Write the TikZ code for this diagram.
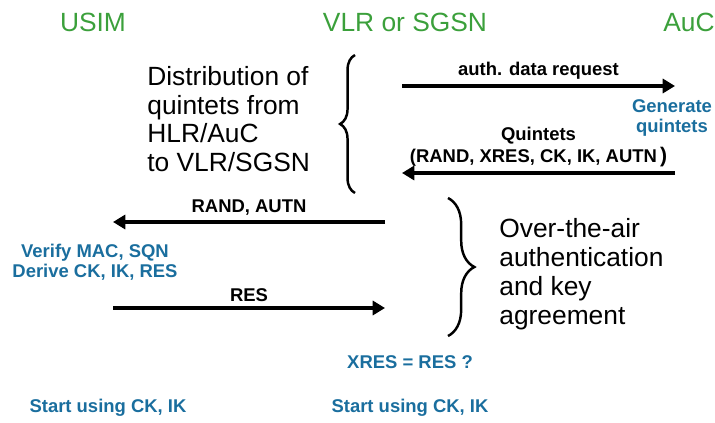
\documentclass[tikz,border=0pt]{standalone}
\usepackage{fontspec}
\setmainfont{Liberation Sans}
\usetikzlibrary{arrows.meta,decorations.pathreplacing}
\definecolor{partygreen}{RGB}{59,160,59}
\definecolor{actblue}{RGB}{26,110,158}

\begin{document}
\begin{tikzpicture}[x=0.02cm, y=-0.02cm,
  party/.style={text=partygreen, font=\fontsize{15}{18}\selectfont},
  msg/.style={line width=2.5pt, -{Triangle[length=7pt,width=8pt]}},
  lbl/.style={font=\fontsize{10.5}{12.5}\selectfont\bfseries, align=center, inner sep=2.5pt},
  act/.style={text=actblue, font=\fontsize{10.5}{11.3}\selectfont\bfseries, align=center},
  note/.style={font=\fontsize{15}{16.4}\selectfont, align=left, anchor=west, inner sep=0pt},
  curly/.style={decorate, line width=1.4pt}]
  \useasboundingbox (0,0) rectangle (715,422);

  % the three parties
  \node [party] (usim) at (93,22) {USIM};
  \node [party] (vlr) at (405,22) {VLR or SGSN};
  \node [party] (auc) at (689,22) {AuC};

  % message end points
  \coordinate (vlrA) at (402,86);
  \coordinate (aucA) at (675,86);
  \coordinate (vlrB) at (402,173);
  \coordinate (aucB) at (675,173);
  \coordinate (usimC) at (113,222);
  \coordinate (vlrC) at (385,222);
  \coordinate (usimD) at (113,308);
  \coordinate (vlrD) at (385,308);

  % messages
  \draw [msg] (vlrA) -- (aucA) node [lbl, midway, above] (req) {auth. data request};
  \draw [msg] (aucB) -- (vlrB) node [lbl, midway, above] (quint) {Quintets\\(RAND, XRES, CK, IK, AUTN\,{\large)}};
  \draw [msg] (vlrC) -- (usimC) node [lbl, midway, above] (chal) {RAND, AUTN};
  \draw [msg] (usimD) -- (vlrD) node [lbl, midway, above] (resp) {RES};

  % actions at each side
  \node [act] (gen) at (672,118) {Generate\\quintets};
  \node [act] (verify) at (95,262) {Verify MAC, SQN\\Derive CK, IK, RES};
  \node [act] (cmp) at (410,362) {XRES = RES ?};
  \node [act] (startU) at (108,408) {Start using CK, IK};
  \node [act] (startV) at (410,408) {Start using CK, IK};

  % phases
  \coordinate (braceAb) at (355,193);
  \coordinate (braceAt) at (355,55);
  \draw [curly, decoration={brace, amplitude=8.5pt}] (braceAb) -- (braceAt);
  \node [note] (phaseA) at (147,119) {Distribution of\\quintets from\\HLR/AuC\\to VLR/SGSN};

  \coordinate (braceBt) at (448,198);
  \coordinate (braceBb) at (448,336);
  \draw [curly, decoration={brace, amplitude=15pt}] (braceBt) -- (braceBb);
  \node [note] (phaseB) at (499,274) {Over-the-air\\authentication\\and key\\agreement};
\end{tikzpicture}
\end{document}
